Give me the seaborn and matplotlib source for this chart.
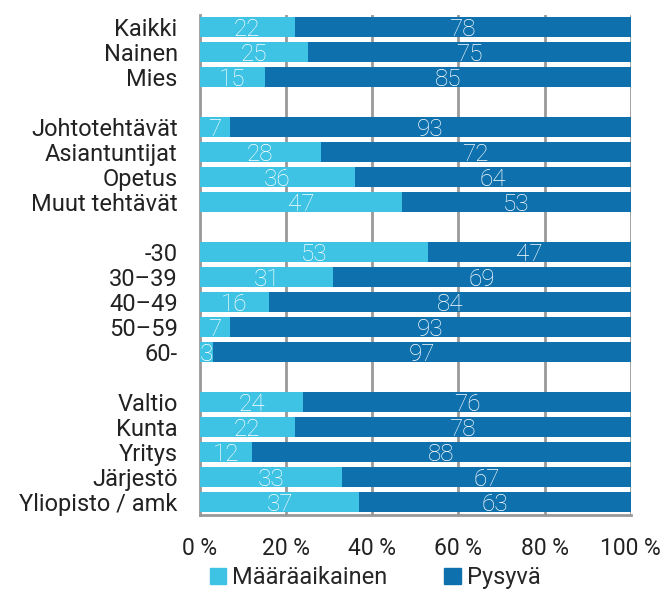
import numpy as np
import pandas as pd
import matplotlib
matplotlib.use("Agg")
import matplotlib.pyplot as plt
import seaborn as sns
from matplotlib.patches import Patch

# ryhmät, tyhjät rivit ryhmien välissä
ryhmat = ["Kaikki", "Nainen", "Mies", "",
          "Johtotehtävät", "Asiantuntijat", "Opetus", "Muut tehtävät", " ",
          "-30", "30–39", "40–49", "50–59", "60-", "  ",
          "Valtio", "Kunta", "Yritys", "Järjestö", "Yliopisto / amk"]
maaraaikainen = [22, 25, 15, 0,
                 7, 28, 36, 47, 0,
                 53, 31, 16, 7, 3, 0,
                 24, 22, 12, 33, 37]
pysyva = [78, 75, 85, 0,
          93, 72, 64, 53, 0,
          47, 69, 84, 93, 97, 0,
          76, 78, 88, 67, 63]

vaalea = "#3EC3E4"
tumma = "#0E71AE"
harmaa = "#999999"

df = pd.DataFrame({"ryhma": ryhmat, "maara": maaraaikainen, "pysyva": pysyva})
df["yht"] = df["maara"] + df["pysyva"]

sns.set_style("white")
plt.rcParams["font.family"] = ["Roboto", "DejaVu Sans"]

fig, ax = plt.subplots(figsize=(6.64, 5.94), dpi=100)
fig.subplots_adjust(left=0.301, right=0.950, top=0.975, bottom=0.133)

for x in [20, 40, 60, 80, 100]:
    ax.axvline(x, color=harmaa, lw=2, zorder=0)

sns.barplot(data=df, y="ryhma", x="yht", color=tumma, width=0.8,
            linewidth=0, saturation=1, ax=ax, zorder=2)
sns.barplot(data=df, y="ryhma", x="maara", color=vaalea, width=0.8,
            linewidth=0, saturation=1, ax=ax, zorder=3)

for i, (m, p) in enumerate(zip(maaraaikainen, pysyva)):
    if m + p == 0:
        continue
    ax.text(m / 2, i + 0.1, str(m), color="white", ha="center", va="center",
            fontsize=17.5, fontweight="light", zorder=4)
    ax.text(m + p / 2, i + 0.1, str(p), color="white", ha="center", va="center",
            fontsize=17.5, fontweight="light", zorder=4)

ax.set_xlim(0, 100)
ax.set_ylim(len(ryhmat) - 0.5, -0.5)
ax.set_xticks([0, 20, 40, 60, 80, 100])
ax.set_xticklabels([f"{v} %" for v in [0, 20, 40, 60, 80, 100]], fontsize=16.5)
ax.set_yticks(range(len(ryhmat)))
ax.set_yticklabels(ryhmat, fontsize=17)
ax.set_yticks(np.arange(-0.5, len(ryhmat)), minor=True)
ax.tick_params(axis="y", which="major", length=0, pad=16, colors="#222222")
ax.tick_params(axis="y", which="minor", length=6, width=2, color=harmaa, direction="out")
ax.tick_params(axis="x", length=6, width=2, color=harmaa, pad=10, colors="#222222")
ax.tick_params(axis="x", color=harmaa)
ax.set_xlabel("")
ax.set_ylabel("")

for s in ["top", "right"]:
    ax.spines[s].set_visible(False)
for s in ["left", "bottom"]:
    ax.spines[s].set_color(harmaa)
    ax.spines[s].set_linewidth(2)

kahvat = [Patch(color=vaalea, label="Määräaikainen"),
          Patch(color=tumma, label="Pysyvä")]
fig.legend(handles=kahvat, loc="center", bbox_to_anchor=(0.565, 0.027), ncol=2,
           frameon=False, fontsize=17, handlelength=0.7, handleheight=0.7,
           handletextpad=0.25, columnspacing=2.4, borderpad=0.1)

fig.savefig("out.png", dpi=100)
